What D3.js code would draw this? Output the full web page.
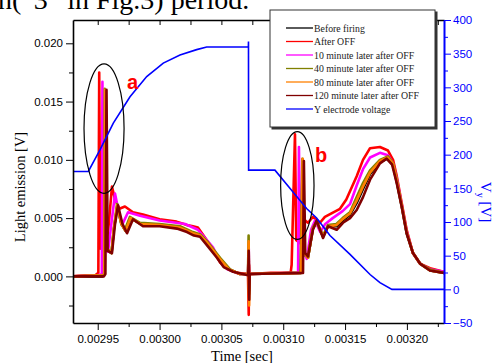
<!DOCTYPE html>
<html>
<head>
<meta charset="utf-8">
<script src="https://cdn.jsdelivr.net/npm/d3@7"></script>
<style>
  html, body { margin: 0; padding: 0; background: #fff; }
  svg { display: block; }
</style>
</head>
<body>
<div id="chart"></div>
<script>
// series names and colours, in legend order
const seriesNames = ['Before firing', 'After OFF', '10 minute later after OFF', '40 minute later after OFF',
  '80 minute later after OFF', '120 minute later after OFF', 'Y electrode voltage'];
const seriesColors = ['#000000', '#ff0000', '#ff00ff', '#808000', '#ff8000', '#800000', '#0000ff'];

// tick values
const xMajor = [0.00295, 0.00300, 0.00305, 0.00310, 0.00315, 0.00320];
const xMinor = [0.002975, 0.003025, 0.003075, 0.003125, 0.003175, 0.003225];
const yMajor = [0.000, 0.005, 0.010, 0.015, 0.020];
const yMinor = [-0.0025, 0.0025, 0.0075, 0.0125, 0.0175];
const vMajor = [-50, 0, 50, 100, 150, 200, 250, 300, 350, 400];
const vMinor = [-25, 25, 75, 125, 175, 225, 275, 325, 375];

// light emission [t (s), V]
const beforeFiring = [
  [0.002930, 0.0000], [0.002954, 0.0000], [0.0029553, 0.0002], [0.0029560, 0.0150], [0.0029568, 0.0023],
  [0.0029612, 0.0020], [0.002963, 0.0040], [0.0029658, 0.0060], [0.0029692, 0.0045], [0.0029725, 0.0039],
  [0.0029765, 0.0050], [0.0029845, 0.0045], [0.003000, 0.0044], [0.0030160, 0.0042], [0.003027, 0.0037],
  [0.003033, 0.0035], [0.0030384, 0.0029], [0.0030480, 0.0016], [0.0030560, 0.0006], [0.003065, 0.0002],
  [0.0030716, 0.0002], [0.0030720, 0.0020], [0.0030724, -0.0012], [0.0030728, 0.0002], [0.0031142, 0.0003],
  [0.0031156, 0.0095], [0.0031167, 0.0019], [0.0031200, 0.0016], [0.003124, 0.0041], [0.003127, 0.0046],
  [0.0031322, 0.0034], [0.0031362, 0.0043], [0.003143, 0.0043], [0.003148, 0.0048], [0.003154, 0.0053],
  [0.0031594, 0.0063], [0.0031645, 0.0075], [0.0031702, 0.0088], [0.0031782, 0.0098], [0.0031840, 0.0101],
  [0.0031885, 0.0096], [0.0031918, 0.0081], [0.0031958, 0.0060], [0.0031998, 0.0037], [0.0032049, 0.0020],
  [0.0032106, 0.0011], [0.0032187, 0.0005], [0.003230, 0.0003]
];
const afterOff = [
  [0.002930, 0.0000], [0.002940, 0.0001], [0.002948, 0.0001], [0.0029505, 0.0003], [0.0029512, 0.0175],
  [0.0029520, 0.0024], [0.0029560, 0.0022], [0.0029585, 0.0040], [0.0029615, 0.0077], [0.002964, 0.0066],
  [0.0029675, 0.0058], [0.002972, 0.0060], [0.0029785, 0.0055], [0.0029866, 0.0053], [0.003000, 0.0049],
  [0.0030137, 0.0047], [0.0030222, 0.0044], [0.003027, 0.0043], [0.003031, 0.0042], [0.003035, 0.0036],
  [0.0030408, 0.0027], [0.0030489, 0.0012], [0.0030545, 0.0007], [0.0030626, 0.0003], [0.0030715, 0.0002],
  [0.0030721, -0.0033], [0.0030723, 0.0010], [0.0030727, 0.0002], [0.0030900, 0.0003], [0.0031060, 0.0003],
  [0.0031068, 0.0010], [0.0031095, 0.0122], [0.0031105, 0.0031], [0.0031119, 0.0030], [0.0031165, 0.0049],
  [0.003120, 0.0046], [0.003124, 0.0051], [0.0031297, 0.0046], [0.0031337, 0.0051], [0.003139, 0.0054],
  [0.0031459, 0.0058], [0.003151, 0.0066], [0.0031594, 0.0086], [0.0031645, 0.0100], [0.0031702, 0.0110],
  [0.0031782, 0.0111], [0.0031847, 0.0108], [0.0031888, 0.0100], [0.0031918, 0.0086], [0.0031958, 0.0063],
  [0.0031998, 0.0040], [0.0032049, 0.0020], [0.0032106, 0.0011], [0.0032187, 0.0007], [0.003230, 0.0004]
];
const after10min = [
  [0.002930, 0.0000], [0.002950, 0.0001], [0.0029533, 0.0002], [0.0029538, 0.0167], [0.0029545, 0.0025],
  [0.0029583, 0.0021], [0.0029610, 0.0045], [0.002964, 0.0071], [0.0029670, 0.0055], [0.0029696, 0.0044],
  [0.0029745, 0.0055], [0.0029842, 0.0052], [0.003000, 0.0048], [0.0030206, 0.0045], [0.003031, 0.0040],
  [0.003036, 0.0034], [0.0030432, 0.0025], [0.0030489, 0.0013], [0.0030550, 0.0006], [0.003065, 0.0002],
  [0.0030715, 0.0002], [0.0030721, 0.0025], [0.0030725, -0.0010], [0.0030729, 0.0002], [0.0031120, 0.0003],
  [0.0031127, 0.0111], [0.0031136, 0.0030], [0.003119, 0.0015], [0.0031225, 0.0040], [0.0031257, 0.0048],
  [0.003130, 0.0038], [0.003134, 0.0045], [0.003140, 0.0050], [0.003148, 0.0056], [0.003154, 0.0062],
  [0.0031594, 0.0078], [0.0031645, 0.0092], [0.0031702, 0.0102], [0.0031782, 0.0106], [0.0031847, 0.0104],
  [0.0031888, 0.0097], [0.0031918, 0.0084], [0.0031958, 0.0062], [0.0031998, 0.0039], [0.0032049, 0.0020],
  [0.0032106, 0.0011], [0.0032187, 0.0006], [0.003230, 0.0004]
];
const after40min = [
  [0.002930, 0.0000], [0.002954, 0.0001], [0.0029552, 0.0002], [0.0029557, 0.0161], [0.0029565, 0.0025],
  [0.0029610, 0.0020], [0.002963, 0.0040], [0.0029656, 0.0062], [0.0029690, 0.0045], [0.0029720, 0.0040],
  [0.0029760, 0.0051], [0.0029842, 0.0046], [0.003000, 0.0045], [0.0030165, 0.0043], [0.003027, 0.0038],
  [0.003033, 0.0036], [0.0030384, 0.0030], [0.0030489, 0.0016], [0.0030570, 0.0006], [0.003065, 0.0002],
  [0.0030715, 0.0002], [0.0030720, 0.0035], [0.0030724, -0.0015], [0.0030728, 0.0002], [0.0031140, 0.0003],
  [0.0031155, 0.0101], [0.0031165, 0.0020], [0.0031200, 0.0016], [0.003124, 0.0042], [0.003127, 0.0047],
  [0.0031322, 0.0035], [0.0031362, 0.0044], [0.003143, 0.0045], [0.003148, 0.0050], [0.003154, 0.0055],
  [0.0031594, 0.0068], [0.0031645, 0.0080], [0.0031702, 0.0091], [0.0031782, 0.0100], [0.0031847, 0.0103],
  [0.0031888, 0.0097], [0.0031918, 0.0083], [0.0031958, 0.0061], [0.0031998, 0.0038], [0.0032049, 0.0020],
  [0.0032106, 0.0011], [0.0032187, 0.0006], [0.003230, 0.0003]
];
const after80min = [
  [0.002930, 0.0000], [0.002955, 0.0001], [0.0029554, 0.0002], [0.0029560, 0.0160], [0.0029568, 0.0024],
  [0.0029612, 0.0020], [0.002963, 0.0041], [0.0029658, 0.0061], [0.0029692, 0.0045], [0.0029725, 0.0039],
  [0.0029765, 0.0050], [0.0029845, 0.0045], [0.003000, 0.0044], [0.0030160, 0.0042], [0.003027, 0.0037],
  [0.003033, 0.0035], [0.0030384, 0.0029], [0.0030480, 0.0016], [0.0030560, 0.0006], [0.003065, 0.0002],
  [0.0030716, 0.0002], [0.0030720, 0.0030], [0.0030724, -0.0025], [0.0030728, 0.0002], [0.0031145, 0.0003],
  [0.0031157, 0.0101], [0.0031168, 0.0020], [0.0031200, 0.0016], [0.003124, 0.0041], [0.003127, 0.0047],
  [0.0031322, 0.0034], [0.0031362, 0.0043], [0.003143, 0.0044], [0.003148, 0.0049], [0.003154, 0.0054],
  [0.0031594, 0.0065], [0.0031645, 0.0077], [0.0031702, 0.0089], [0.0031782, 0.0099], [0.0031845, 0.0102],
  [0.0031886, 0.0097], [0.0031918, 0.0082], [0.0031958, 0.0061], [0.0031998, 0.0038], [0.0032049, 0.0020],
  [0.0032106, 0.0011], [0.0032187, 0.0005], [0.003230, 0.0003]
];
const after120min = [
  [0.002930, 0.0000], [0.002955, 0.0000], [0.0029562, 0.0002], [0.0029571, 0.0160], [0.0029580, 0.0022],
  [0.0029615, 0.0020], [0.002964, 0.0045], [0.0029664, 0.0061], [0.0029700, 0.0045], [0.0029737, 0.0037],
  [0.0029785, 0.0049], [0.0029866, 0.0043], [0.003000, 0.0043], [0.0030140, 0.0041], [0.0030222, 0.0038],
  [0.0030278, 0.0035], [0.0030327, 0.0034], [0.0030381, 0.0027], [0.0030464, 0.0016], [0.0030518, 0.0008],
  [0.0030594, 0.0004], [0.0030717, 0.0001], [0.0030721, 0.0022], [0.0030725, -0.0020], [0.0030729, 0.0002],
  [0.0031160, 0.0003], [0.0031167, 0.0099], [0.0031178, 0.0020], [0.003120, 0.0017], [0.003124, 0.0040],
  [0.003127, 0.0048], [0.0031322, 0.0033], [0.0031362, 0.0043], [0.0031432, 0.0040], [0.0031483, 0.0046],
  [0.003154, 0.0050], [0.0031594, 0.0057], [0.0031645, 0.0068], [0.0031702, 0.0083], [0.0031782, 0.0097],
  [0.0031836, 0.0101], [0.0031880, 0.0096], [0.0031918, 0.0080], [0.0031958, 0.0060], [0.0031998, 0.0037],
  [0.0032049, 0.0020], [0.0032106, 0.0011], [0.0032187, 0.0005], [0.003230, 0.0003]
];
// Y electrode voltage [t (s), V]
const yVoltage = [
  [0.002930, 175], [0.0029424, 175], [0.0029518, 207], [0.0029626, 247], [0.0029761, 286],
  [0.0029896, 316], [0.003003, 336], [0.0030165, 348], [0.00303, 356], [0.0030381, 360],
  [0.0030718, 360], [0.0030719, 368], [0.0030720, 177], [0.0030933, 177], [0.0031054, 150],
  [0.0031189, 120], [0.003127, 106], [0.0031378, 80], [0.003154, 52], [0.0031702, 22],
  [0.0031782, 10], [0.0031879, 0], [0.003230, 0]
];
const emission = [beforeFiring, afterOff, after10min, after40min, after80min, after120min];

// annotation ellipses: centre [t, V], half-size [dt, dV], label position [t, V]
const ellipses = [
  {label: 'a', c: [0.0029551, 0.01268], r: [0.0000162, 0.00555], lab: [0.0029737, 0.0161]},
  {label: 'b', c: [0.0031114, 0.0078], r: [0.0000135, 0.00462], lab: [0.0031257, 0.0098]}
];

const W = 496, H = 363;
const margin = {top: 20, right: 52, bottom: 40, left: 73};

const svg = d3.select('#chart').append('svg')
  .attr('width', W).attr('height', H);

const x = d3.scaleLinear().domain([0.00293, 0.00323]).range([margin.left, W - margin.right]);
const y = d3.scaleLinear().domain([-0.004, 0.022]).range([H - margin.bottom, margin.top]);
const yv = d3.scaleLinear().domain([-50, 400]).range([H - margin.bottom, margin.top]);

// clipped heading text from the page above
svg.append('text')
  .attr('x', -2).attr('y', 9)
  .attr('font-family', 'Liberation Serif, Times New Roman, serif')
  .attr('font-size', 28)
  .text('n(“3” in Fig.3) period.');

const defs = svg.append('defs');
defs.append('clipPath').attr('id', 'plot')
  .append('rect')
  .attr('x', margin.left).attr('y', margin.top)
  .attr('width', W - margin.right - margin.left)
  .attr('height', H - margin.bottom - margin.top);

const plot = svg.append('g').attr('clip-path', 'url(#plot)');

const line = d3.line()
  .x(d => x(d[0]))
  .y(d => y(d[1]));

const vline = d3.line()
  .x(d => x(d[0]))
  .y(d => yv(d[1]));

emission.forEach((s, i) => {
  plot.append('path')
    .datum(s)
    .attr('fill', 'none')
    .attr('stroke', seriesColors[i])
    .attr('stroke-width', 2.6)
    .attr('stroke-linejoin', 'round')
    .attr('d', line);
});

plot.append('path')
  .datum(yVoltage)
  .attr('fill', 'none')
  .attr('stroke', seriesColors[6])
  .attr('stroke-width', 1.6)
  .attr('d', vline);

// ellipses + labels
ellipses.forEach(e => {
  svg.append('ellipse')
    .attr('cx', x(e.c[0])).attr('cy', y(e.c[1]))
    .attr('rx', x(e.c[0] + e.r[0]) - x(e.c[0]))
    .attr('ry', y(e.c[1]) - y(e.c[1] + e.r[1]))
    .attr('fill', 'none').attr('stroke', '#000').attr('stroke-width', 1.2);
  svg.append('text')
    .attr('x', x(e.lab[0])).attr('y', y(e.lab[1]))
    .attr('font-family', 'Liberation Sans, Arial, sans-serif')
    .attr('font-weight', 'bold').attr('font-size', 20)
    .attr('fill', '#ff0000')
    .text(e.label);
});

// axes
const tickFont = g => g.selectAll('text')
  .attr('font-family', 'Liberation Sans, Arial, sans-serif')
  .attr('font-size', 11.5);

const b = H - margin.bottom, r = W - margin.right;

svg.append('g').attr('transform', `translate(0,${b})`)
  .call(d3.axisBottom(x).tickValues(xMajor).tickFormat(d3.format('.5f')).tickSize(7).tickPadding(5).tickSizeOuter(0))
  .call(g => g.select('.domain').attr('stroke-width', 1.6))
  .call(tickFont);
svg.append('g').attr('transform', `translate(0,${b})`)
  .call(d3.axisBottom(x).tickValues(xMinor).tickFormat('').tickSize(4).tickSizeOuter(0))
  .call(g => g.select('.domain').remove());

svg.append('g').attr('transform', `translate(0,${margin.top})`)
  .call(d3.axisTop(x).tickValues(xMajor.concat(xMinor)).tickFormat('').tickSize(-5).tickSizeOuter(0))
  .call(g => g.select('.domain').attr('stroke-width', 1.6));

svg.append('g').attr('transform', `translate(${margin.left},0)`)
  .call(d3.axisLeft(y).tickValues(yMajor).tickFormat(d3.format('.3f')).tickSize(7).tickPadding(3).tickSizeOuter(0))
  .call(g => g.select('.domain').attr('stroke-width', 1.6))
  .call(tickFont);
svg.append('g').attr('transform', `translate(${margin.left},0)`)
  .call(d3.axisLeft(y).tickValues(yMinor).tickFormat('').tickSize(4).tickSizeOuter(0))
  .call(g => g.select('.domain').remove());

const right = svg.append('g').attr('transform', `translate(${r},0)`)
  .call(d3.axisRight(yv).tickValues(vMajor).tickSize(7).tickPadding(2).tickSizeOuter(0))
  .call(tickFont);
svg.append('g').attr('transform', `translate(${r},0)`)
  .call(d3.axisRight(yv).tickValues(vMinor).tickFormat('').tickSize(4).tickSizeOuter(0))
  .call(g => g.select('.domain').remove())
  .attr('class', 'rminor');
svg.selectAll('.rminor line').attr('stroke', '#0000ff');
right.select('.domain').attr('stroke', '#0000ff').attr('stroke-width', 2);
right.selectAll('line').attr('stroke', '#0000ff');
right.selectAll('text').attr('fill', '#0000ff');

// axis titles
svg.append('text')
  .attr('transform', `translate(25,187) rotate(-90)`)
  .attr('text-anchor', 'middle')
  .attr('font-family', 'Liberation Serif, Times New Roman, serif')
  .attr('font-size', 14.5)
  .text('Light emission [V]');

svg.append('text')
  .attr('x', 242).attr('y', 361)
  .attr('text-anchor', 'middle')
  .attr('font-family', 'Liberation Serif, Times New Roman, serif')
  .attr('font-size', 14.5)
  .text('Time [sec]');

const vt = svg.append('text')
  .attr('transform', `translate(481,202) rotate(90)`)
  .attr('text-anchor', 'middle')
  .attr('font-family', 'Liberation Serif, Times New Roman, serif')
  .attr('font-size', 15)
  .attr('fill', '#0000ff');
vt.append('tspan').text('V');
vt.append('tspan').attr('font-size', 10).attr('dy', 4).text('y');
vt.append('tspan').attr('dy', -4).text(' [V]');

// legend
const lg = svg.append('g');
lg.append('rect')
  .attr('x', 271.5).attr('y', 11.5).attr('width', 166).attr('height', 118)
  .attr('fill', '#333');
lg.append('rect')
  .attr('x', 270).attr('y', 10).attr('width', 165).attr('height', 117)
  .attr('fill', '#fff').attr('stroke', '#333').attr('stroke-width', 1);
seriesNames.forEach((name, i) => {
  const yy = 28 + i * 13.5;
  lg.append('line')
    .attr('x1', 286).attr('x2', 313).attr('y1', yy).attr('y2', yy)
    .attr('stroke', seriesColors[i]).attr('stroke-width', 1.3);
  lg.append('text')
    .attr('x', 314).attr('y', yy + 3.5)
    .attr('font-family', 'Liberation Serif, Times New Roman, serif')
    .attr('font-size', 9.8)
    .attr('fill', '#222')
    .text(name);
});
</script>
</body>
</html>
